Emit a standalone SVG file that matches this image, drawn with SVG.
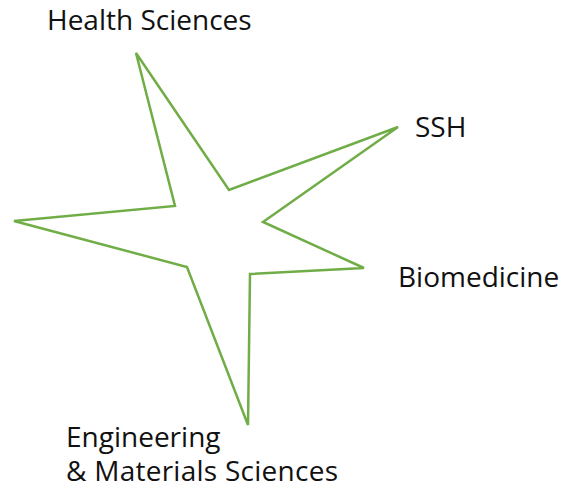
<svg xmlns="http://www.w3.org/2000/svg" width="563" height="495" viewBox="0 0 563 495">
<style>
.lbl{font-family:"Open Sans","Noto Sans","Liberation Sans",sans-serif;font-size:28px;fill:#111}
.star{fill:none;stroke:#70AD47;stroke-width:2.5;stroke-linejoin:miter}
</style>
<rect width="563" height="495" fill="#fff"/>
<g id="connectors">
<polygon id="star" class="star" points="136,53 229,190 398,127 263,222 364,268 250,274 248,425 187,267 14,221 175,206"/>
</g>
<g id="health"><text class="lbl" x="47" y="30">Health Sciences</text></g>
<g id="ssh"><text class="lbl" x="415" y="137">SSH</text></g>
<g id="biomedicine"><text class="lbl" x="398" y="287">Biomedicine</text></g>
<g id="engineering"><text class="lbl" x="66" y="447">Engineering</text><text class="lbl" x="66" y="481" textLength="272" lengthAdjust="spacing">&amp; Materials Sciences</text></g>
</svg>
